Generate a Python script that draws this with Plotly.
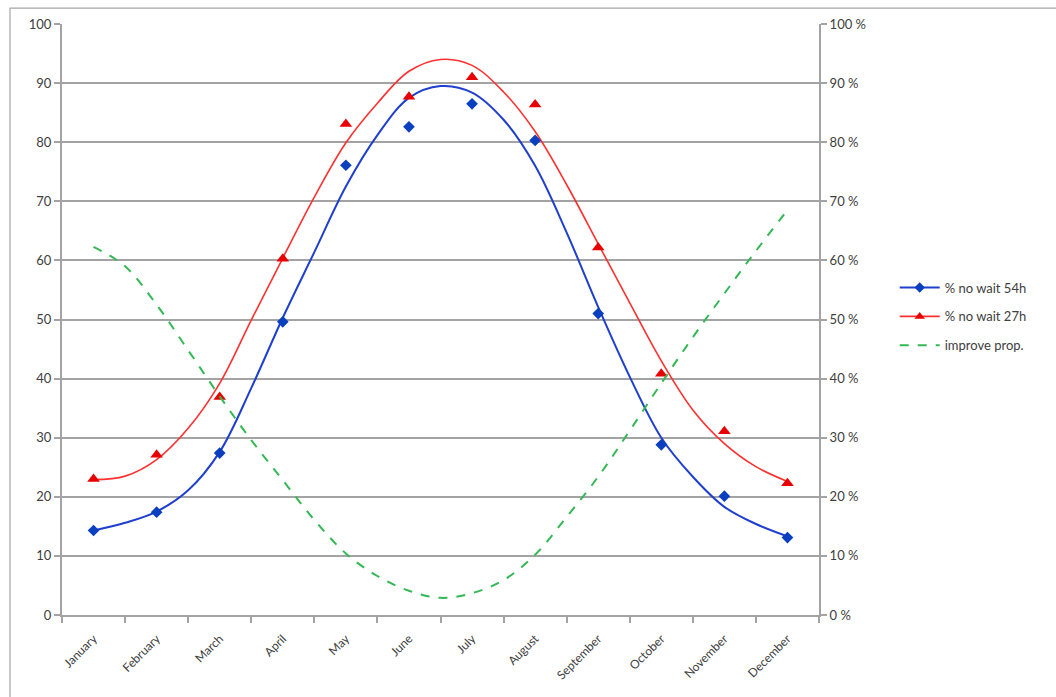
import plotly.graph_objects as go

months = ["January", "February", "March", "April", "May", "June", "July",
          "August", "September", "October", "November", "December"]
month_pos = list(range(12))

# Observed monthly values
no_wait_54h = [14.3, 17.4, 27.4, 49.6, 76.1, 82.6, 86.5, 80.3, 51.0, 28.8, 20.1, 13.1]
no_wait_27h = [23.0, 27.1, 36.9, 60.3, 83.1, 87.7, 91.0, 86.4, 62.2, 40.8, 31.1, 22.3]

# Smoothed fitted curves, read at half-month steps
curve_pos = [0, 0.5, 1, 1.5, 2, 2.5, 3, 3.5, 4, 4.5, 5, 5.5, 6, 6.5, 7, 7.5, 8, 8.5, 9, 9.5, 10, 10.5, 11]
curve_54h = [14.3, 15.6, 17.5, 21.1, 27.6, 38.4, 50.3, 61.4, 72.5, 81.2, 87.5, 89.5, 88.4, 83.8,
             76.0, 64.7, 52.1, 40.3, 30.0, 23.4, 18.3, 15.4, 13.3]
curve_27h = [22.9, 23.5, 26.3, 31.6, 39.2, 49.9, 60.4, 70.7, 79.9, 86.6, 92.0, 94.0, 93.0, 88.5,
             81.8, 72.8, 62.8, 52.8, 43.0, 34.7, 29.0, 25.1, 22.6]
improve_prop = [62.3, 59.0, 52.5, 44.8, 37.0, 29.6, 22.8, 16.1, 10.4, 6.6, 4.1, 2.9, 3.7, 5.9,
                10.2, 16.6, 23.4, 31.2, 39.2, 47.0, 54.4, 61.6, 68.5]

BLUE = "#1f3fcf"
BLUE_M = "#0a3fc0"
RED = "#ff3030"
RED_M = "#e80000"
GREEN = "#33b854"
GRID = "#a3a3a3"
TXT = "#404040"

fig = go.Figure()

fig.add_trace(go.Scatter(x=curve_pos, y=curve_54h, mode="lines", line=dict(color=BLUE, width=2, shape="spline"),
                         showlegend=False, hoverinfo="skip"))
fig.add_trace(go.Scatter(x=curve_pos, y=curve_27h, mode="lines", line=dict(color=RED, width=1.6, shape="spline"),
                         showlegend=False, hoverinfo="skip"))
fig.add_trace(go.Scatter(x=curve_pos, y=improve_prop, mode="lines", yaxis="y2",
                         line=dict(color=GREEN, width=2, dash="dash", shape="spline"),
                         showlegend=False, hoverinfo="skip"))
fig.add_trace(go.Scatter(x=month_pos, y=no_wait_54h, mode="markers",
                         marker=dict(symbol="diamond", size=9, color=BLUE_M), showlegend=False))
fig.add_trace(go.Scatter(x=month_pos, y=no_wait_27h, mode="markers",
                         marker=dict(symbol="triangle-up", size=11, color=RED_M), showlegend=False))

# legend entries
fig.add_trace(go.Scatter(x=[None], y=[None], mode="lines+markers", name="% no wait 54h", legendgroup="a",
                         line=dict(color=BLUE, width=2), marker=dict(symbol="diamond", size=8, color=BLUE_M)))
fig.add_trace(go.Scatter(x=[None], y=[None], mode="lines+markers", name="% no wait 27h", legendgroup="b",
                         line=dict(color=RED, width=1.6), marker=dict(symbol="triangle-up", size=9, color=RED_M)))
fig.add_trace(go.Scatter(x=[None], y=[None], mode="lines", name="improve prop.", legendgroup="c",
                         line=dict(color=GREEN, width=2, dash="dash")))

fig.update_layout(
    width=1056, height=697,
    margin=dict(l=62, r=237, t=24, b=82),
    paper_bgcolor="white", plot_bgcolor="white",
    font=dict(family="Lato, Liberation Sans, sans-serif", size=13, color=TXT),
    xaxis=dict(range=[-0.5, 11.5], tickmode="array", tickvals=month_pos, ticktext=months,
               tickangle=-45, ticks="", showgrid=False, zeroline=False, ticklabelstandoff=10,
               showline=True, linecolor=GRID, linewidth=2,
               minor=dict(tickmode="linear", tick0=-0.5, dtick=1, ticks="outside", ticklen=6,
                          tickcolor=GRID, tickwidth=1.5, showgrid=False),
               tickfont=dict(size=12, color=TXT)),
    yaxis=dict(range=[0, 100], dtick=10, showgrid=True, gridcolor=GRID, gridwidth=1.5,
               zeroline=False, showline=True, linecolor=GRID, linewidth=2,
               ticks="outside", ticklen=6, tickcolor=GRID, tickwidth=1.5,
               tickfont=dict(size=13, color=TXT)),
    yaxis2=dict(range=[0, 100], dtick=10, overlaying="y", side="right", showgrid=False,
                zeroline=False, showline=True, linecolor=GRID, linewidth=2,
                ticks="outside", ticklen=6, tickcolor=GRID, tickwidth=1.5,
                ticksuffix=" %", tickfont=dict(size=13, color=TXT)),
    legend=dict(x=1.10, y=0.505, xanchor="left", yanchor="middle", bgcolor="rgba(0,0,0,0)",
                font=dict(size=13, color=TXT), tracegroupgap=9, itemwidth=40),
    shapes=[dict(type="rect", xref="paper", yref="paper", x0=-0.0687, y0=-0.3, x1=1.4, y1=1.027,
                 line=dict(color="#a6a6a6", width=1.2), layer="below")],
)

fig.write_html("out.html", config={"displayModeBar": False},
               post_script="document.body.style.margin='0';")
